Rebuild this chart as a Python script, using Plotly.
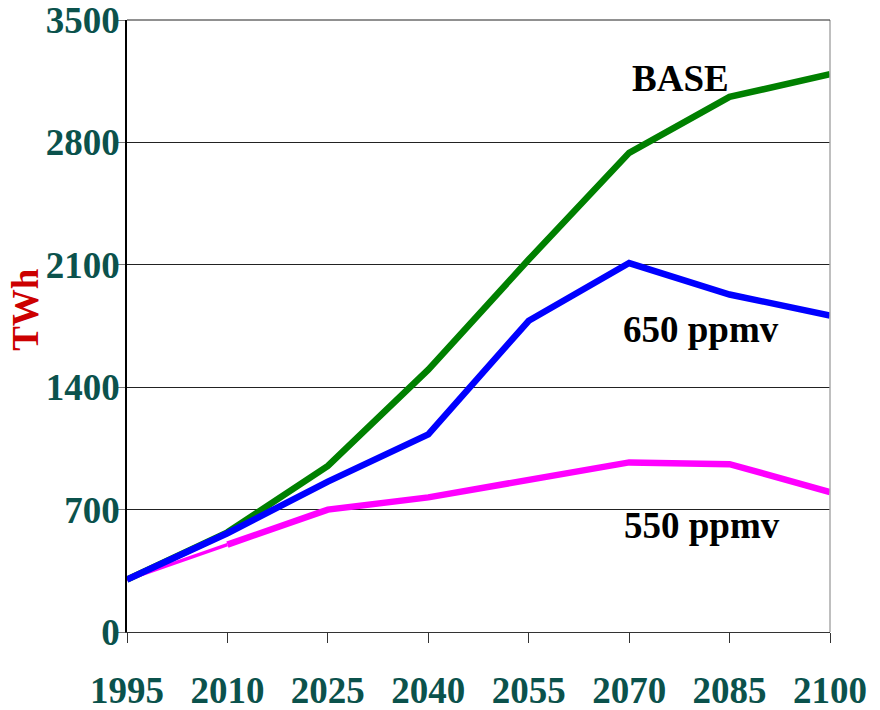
import plotly.graph_objects as go

# Electricity demand scenarios (TWh)
years = [1995, 2010, 2025, 2040, 2055, 2070, 2085, 2100]
base = [300, 570, 950, 1500, 2130, 2740, 3060, 3190]
ppmv_650 = [300, 565, 860, 1130, 1780, 2110, 1930, 1810]
ppmv_550 = [300, 500, 700, 770, 870, 970, 960, 800]
y_ticks = [0, 700, 1400, 2100, 2800, 3500]

FONT = "Liberation Serif"
TICK_COLOR = "#0B524C"
FS = 37

fig = go.Figure()

fig.add_trace(go.Scatter(x=years, y=base, mode="lines",
                         line=dict(color="#008000", width=6.5), name="BASE"))
# 550 ppmv: thin first segment, thick from 2010 on
fig.add_trace(go.Scatter(x=years[:2], y=ppmv_550[:2], mode="lines",
                         line=dict(color="#FF00FF", width=3.5), name="550 ppmv"))
fig.add_trace(go.Scatter(x=years[1:], y=ppmv_550[1:], mode="lines",
                         line=dict(color="#FF00FF", width=6.5), name="550 ppmv"))
fig.add_trace(go.Scatter(x=years, y=ppmv_650, mode="lines",
                         line=dict(color="#0000FF", width=6.5), name="650 ppmv"))

label_font = dict(family=FONT, size=FS, color="black", weight="bold")

fig.update_layout(
    width=880, height=710,
    margin=dict(l=127, r=50, t=20, b=78, autoexpand=False),
    paper_bgcolor="white", plot_bgcolor="white",
    showlegend=False,
    xaxis=dict(
        range=[1995, 2100], tickmode="array", tickvals=years,
        ticktext=[str(y) for y in years],
        showgrid=False, zeroline=False,
        showline=True, linecolor="#333333", linewidth=1,
        ticks="outside", ticklen=10, tickcolor="#333333", tickwidth=1,
        ticklabelstandoff=16, ticklabeloverflow="allow",
        tickfont=dict(family=FONT, size=FS, color=TICK_COLOR, weight="bold"),
    ),
    yaxis=dict(
        range=[0, 3500], tickmode="array", tickvals=y_ticks,
        ticktext=[str(v) for v in y_ticks],
        showgrid=True, gridcolor="#222222", gridwidth=1,
        zeroline=False,
        showline=True, linecolor="black", linewidth=1.5,
        ticks="outside", ticklen=8, tickcolor="#777777", tickwidth=1,
        ticklabelstandoff=-10, ticklabeloverflow="allow",
        tickfont=dict(family=FONT, size=FS, color=TICK_COLOR, weight="bold"),
    ),
    annotations=[
        dict(text="BASE", xref="paper", yref="paper", x=0.7155, y=0.9036,
             xanchor="left", yanchor="middle", showarrow=False, font=label_font),
        dict(text="650 ppmv", xref="paper", yref="paper", x=0.7027, y=0.4935,
             xanchor="left", yanchor="middle", showarrow=False, font=label_font),
        dict(text="550 ppmv", xref="paper", yref="paper", x=0.704, y=0.174,
             xanchor="left", yanchor="middle", showarrow=False, font=label_font),
        dict(text="TWh", xref="paper", yref="paper", x=-0.1437, y=0.528,
             xanchor="center", yanchor="middle", textangle=-90, showarrow=False,
             font=dict(family=FONT, size=FS, color="#CC0000", weight="bold")),
    ],
    shapes=[
        dict(type="line", xref="paper", yref="paper", x0=1, x1=1, y0=0, y1=1,
             line=dict(color="#AAAAAA", width=1.5)),
        dict(type="line", xref="paper", yref="paper", x0=0, x1=1, y0=1, y1=1,
             line=dict(color="#222222", width=1)),
    ],
)

fig.write_html("out.html")
